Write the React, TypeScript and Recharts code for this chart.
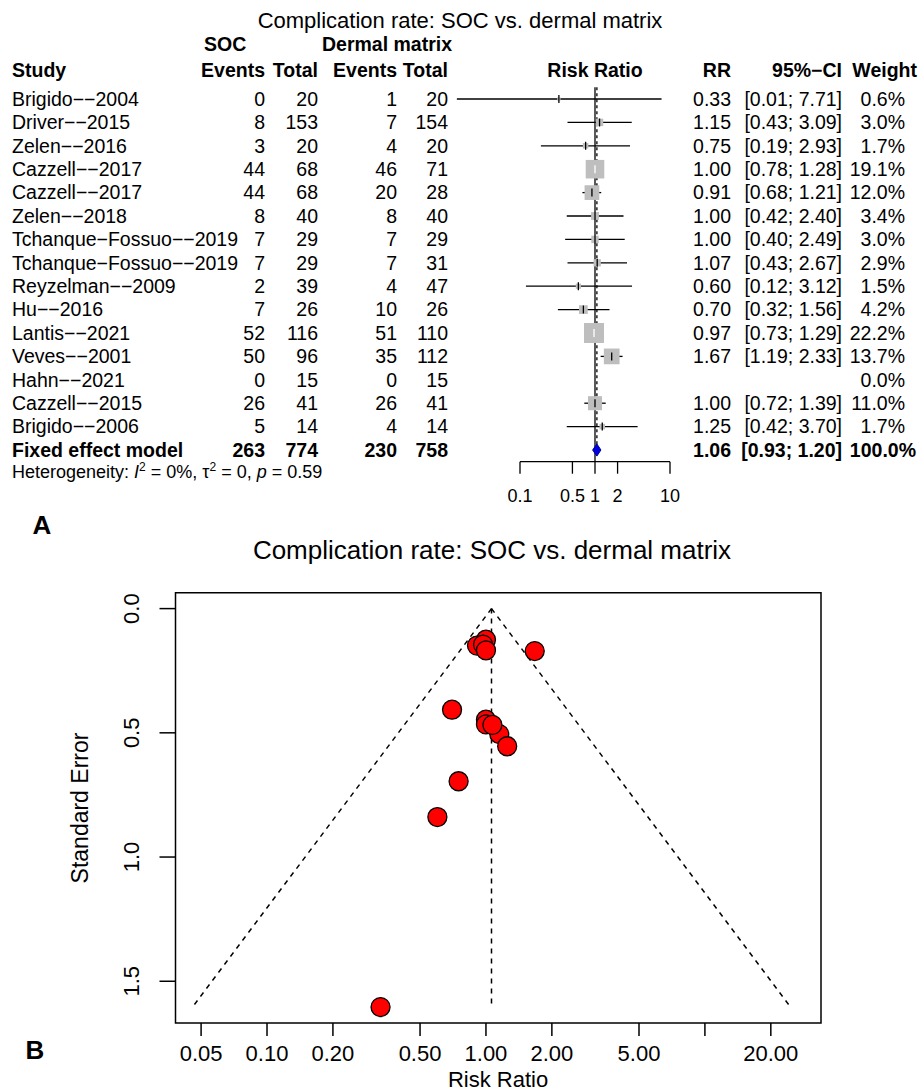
import React from 'react';
import {
  ScatterChart,
  Scatter,
  XAxis,
  YAxis,
  ErrorBar,
  ReferenceLine,
  ReferenceArea,
} from 'recharts';

const FONT = '"Liberation Sans", Arial, Helvetica, sans-serif';

// ---- study table ----
const studyNames = [
  'Brigido−−2004', 'Driver−−2015', 'Zelen−−2016', 'Cazzell−−2017', 'Cazzell−−2017',
  'Zelen−−2018', 'Tchanque−Fossuo−−2019', 'Tchanque−Fossuo−−2019', 'Reyzelman−−2009',
  'Hu−−2016', 'Lantis−−2021', 'Veves−−2001', 'Hahn−−2021', 'Cazzell−−2015', 'Brigido−−2006',
];
const socEvents = [0, 8, 3, 44, 44, 8, 7, 7, 2, 7, 52, 50, 0, 26, 5];
const socTotal = [20, 153, 20, 68, 68, 40, 29, 29, 39, 26, 116, 96, 15, 41, 14];
const dermEvents = [1, 7, 4, 46, 20, 8, 7, 7, 4, 10, 51, 35, 0, 26, 4];
const dermTotal = [20, 154, 20, 71, 28, 40, 29, 31, 47, 26, 110, 112, 15, 41, 14];
const riskRatio = [0.33, 1.15, 0.75, 1.0, 0.91, 1.0, 1.0, 1.07, 0.6, 0.7, 0.97, 1.67, null, 1.0, 1.25];
const ciLower = [0.0144, 0.43, 0.19, 0.78, 0.68, 0.42, 0.4, 0.43, 0.12, 0.32, 0.73, 1.19, null, 0.72, 0.42];
const ciUpper = [7.71, 3.09, 2.93, 1.28, 1.21, 2.4, 2.49, 2.67, 3.12, 1.56, 1.29, 2.33, null, 1.39, 3.7];
const weights = [0.6, 3.0, 1.7, 19.1, 12.0, 3.4, 3.0, 2.9, 1.5, 4.2, 22.2, 13.7, 0.0, 11.0, 1.7];
// standard error of log RR, funnel plot y
const stdErrors = [1.604, 0.505, 0.695, 0.125, 0.149, 0.447, 0.466, 0.468, 0.839, 0.407, 0.145, 0.171, null, 0.168, 0.554];

// fixed effect model
const pooledCounts = [263, 774, 230, 758];
const pooledRR = 1.06;
const pooledLower = 0.93;
const pooledUpper = 1.2;

const forestTicks = [0.1, 0.5, 1, 2, 10];
const funnelTicks = [0.05, 0.1, 0.2, 0.5, 1, 2, 5, 10, 20];
const seTicks = [0, 0.5, 1, 1.5];
// pseudo 95% limits of the funnel at max SE
const funnelSeMax = 1.604;
const funnelLower = 0.0457;
const funnelUpper = 24.6;

const rows = studyNames.map((name, i) => ({
  row: i + 1,
  name,
  ev1: socEvents[i],
  n1: socTotal[i],
  ev2: dermEvents[i],
  n2: dermTotal[i],
  rr: riskRatio[i],
  lo: ciLower[i],
  hi: ciUpper[i],
  w: weights[i],
  se: stdErrors[i],
  ci: riskRatio[i] == null ? [0, 0] : [riskRatio[i]! - ciLower[i]!, ciUpper[i]! - riskRatio[i]!],
}));
const withEstimate = rows.filter((r) => r.rr != null);
const thinCI = withEstimate.filter((r) => r.w < 15);
const boxedCI = withEstimate.filter((r) => r.w >= 15);
const pooledRow = rows.length + 1;
const rowTicks = rows.map((r) => r.row).concat(pooledRow);
const diamond = [
  { rr: pooledLower, row: pooledRow },
  { rr: pooledRR, row: pooledRow - 0.26 },
  { rr: pooledUpper, row: pooledRow },
  { rr: pooledRR, row: pooledRow + 0.26 },
];

const FS = 19.5;

function T(props: any) {
  const { children, ...rest } = props;
  return (
    <text fontFamily={FONT} fontSize={FS} fill="#000" dy="0.35em" {...rest}>
      {children}
    </text>
  );
}

function ForestRowTick({ y, payload }: any) {
  const i = payload.value;
  if (i === pooledRow) {
    return (
      <g>
        <T x={12} y={y} fontWeight="bold">Fixed effect model</T>
        <T x={265} y={y} textAnchor="end" fontWeight="bold">{pooledCounts[0]}</T>
        <T x={318} y={y} textAnchor="end" fontWeight="bold">{pooledCounts[1]}</T>
        <T x={397} y={y} textAnchor="end" fontWeight="bold">{pooledCounts[2]}</T>
        <T x={448} y={y} textAnchor="end" fontWeight="bold">{pooledCounts[3]}</T>
        <T x={731} y={y} textAnchor="end" fontWeight="bold">{pooledRR.toFixed(2)}</T>
        <T x={842} y={y} textAnchor="end" fontWeight="bold">
          [{pooledLower.toFixed(2)}; {pooledUpper.toFixed(2)}]
        </T>
        <T x={916} y={y} textAnchor="end" fontWeight="bold">100.0%</T>
        <T x={12} y={y + 21.7} fontSize={18}>
          Heterogeneity: <tspan fontStyle="italic">I</tspan>
          <tspan fontSize={12} dy={-7}>2</tspan>
          <tspan dy={7}> = 0%, τ</tspan>
          <tspan fontSize={12} dy={-7}>2</tspan>
          <tspan dy={7}> = 0, </tspan>
          <tspan fontStyle="italic">p</tspan> = 0.59
        </T>
      </g>
    );
  }
  const r = rows[i - 1];
  if (!r) return <g />;
  return (
    <g>
      <T x={12} y={y}>{r.name}</T>
      <T x={265} y={y} textAnchor="end">{r.ev1}</T>
      <T x={318} y={y} textAnchor="end">{r.n1}</T>
      <T x={397} y={y} textAnchor="end">{r.ev2}</T>
      <T x={448} y={y} textAnchor="end">{r.n2}</T>
      {r.rr != null && (
        <>
          <T x={731} y={y} textAnchor="end">{r.rr.toFixed(2)}</T>
          <T x={842} y={y} textAnchor="end">
            [{r.lo!.toFixed(2)}; {r.hi!.toFixed(2)}]
          </T>
        </>
      )}
      <T x={905} y={y} textAnchor="end">{r.w.toFixed(1)}%</T>
    </g>
  );
}

const squareShape = (p: any) => {
  const s = 20 * Math.sqrt(p.payload.w / 22.2);
  return <rect x={p.cx - s / 2} y={p.cy - s / 2} width={s} height={s} fill="#bebebe" />;
};

const estimateTick = (color: string) => (p: any) => (
  <line x1={p.cx} x2={p.cx} y1={p.cy - 4} y2={p.cy + 4} stroke={color} strokeWidth={1.3} />
);

const diamondShape = (p: any) => (
  <polygon
    points={p.points.map((q: any) => `${q.x},${q.y}`).join(' ')}
    fill="#0000e6"
    stroke="#00008b"
    strokeWidth={1}
  />
);

const dotShape = (p: any) => (
  <circle cx={p.cx} cy={p.cy} r={9.5} fill="#ff0000" stroke="#000" strokeWidth={1.3} />
);

function SeTick({ x, y, payload }: any) {
  const cx = x - 28;
  return (
    <text
      x={cx}
      y={y}
      transform={`rotate(-90 ${cx} ${y})`}
      textAnchor="middle"
      dy="0.35em"
      fontSize={22}
      fontFamily={FONT}
      fill="#000"
    >
      {payload.value.toFixed(1)}
    </text>
  );
}

export default function App() {
  return (
    <div style={{ position: 'absolute', left: 0, top: 0, width: 921, height: 1092, background: '#fff' }}>
      {/* A: forest plot */}
      <div style={{ position: 'absolute', left: 0, top: 0 }}>
        <ScatterChart width={921} height={530} margin={{ top: 87.3, right: 251, bottom: 18.3, left: 444 }}>
          <XAxis
            type="number"
            dataKey="rr"
            scale="log"
            domain={[0.01, 10]}
            allowDataOverflow
            ticks={forestTicks}
            interval={0}
            tickFormatter={(v: number) => String(v)}
            axisLine={false}
            tickSize={12}
            tickMargin={16}
            height={50}
            tickLine={{ stroke: '#000', strokeWidth: 1.3 }}
            tick={{ fontSize: 18, fill: '#000', fontFamily: FONT }}
          />
          <YAxis
            type="number"
            dataKey="row"
            domain={[0.5, 16.5]}
            reversed
            allowDataOverflow
            ticks={rowTicks}
            interval={0}
            width={1}
            axisLine={false}
            tickLine={false}
            tick={(p: any) => <ForestRowTick {...p} />}
          />
          <ReferenceLine x={1} stroke="#000" strokeWidth={1.3} />
          <ReferenceLine
            segment={[{ x: pooledRR, y: 0.5 }, { x: pooledRR, y: pooledRow - 0.26 }]}
            stroke="#000"
            strokeWidth={1.3}
            strokeDasharray="3 3"
          />
          <ReferenceLine
            segment={[{ x: 0.1, y: 16.5 }, { x: 10, y: 16.5 }]}
            stroke="#000"
            strokeWidth={1.3}
            ifOverflow="visible"
          />
          <Scatter data={withEstimate} shape={squareShape} isAnimationActive={false} />
          <Scatter data={thinCI} shape={estimateTick('#000')} isAnimationActive={false}>
            <ErrorBar dataKey="ci" direction="x" width={0} stroke="#000" strokeWidth={1.3} isAnimationActive={false} />
          </Scatter>
          <Scatter data={boxedCI} shape={estimateTick('#fff')} isAnimationActive={false}>
            <ErrorBar dataKey="ci" direction="x" width={0} stroke="#fff" strokeWidth={1.3} isAnimationActive={false} />
          </Scatter>
          <Scatter data={diamond} shape={() => <g />} line={diamondShape} isAnimationActive={false} />
        </ScatterChart>
      </div>

      {/* B: funnel plot */}
      <div style={{ position: 'absolute', left: 0, top: 540 }}>
        <ScatterChart width={921} height={552} margin={{ top: 52.7, right: 100, bottom: 0, left: 0 }}>
          <XAxis
            type="number"
            dataKey="rr"
            scale="log"
            domain={[0.0382, 33.9]}
            allowDataOverflow
            ticks={funnelTicks}
            interval={0}
            tickFormatter={(v: number) => (v === 10 ? '' : v.toFixed(2))}
            axisLine={false}
            tickSize={13}
            tickMargin={9}
            height={69}
            tickLine={{ stroke: '#000', strokeWidth: 1.5 }}
            tick={{ fontSize: 22, fill: '#000', fontFamily: FONT }}
          />
          <YAxis
            type="number"
            dataKey="se"
            domain={[-0.064, 1.668]}
            reversed
            allowDataOverflow
            ticks={seTicks}
            interval={0}
            width={175.5}
            axisLine={false}
            tickSize={16}
            tickMargin={0}
            tickLine={{ stroke: '#000', strokeWidth: 1.5 }}
            tick={(p: any) => <SeTick {...p} />}
          />
          <ReferenceArea x1={0.0382} x2={33.9} y1={-0.064} y2={1.668} fill="none" fillOpacity={0} stroke="#000" strokeWidth={1.5} />
          <ReferenceLine segment={[{ x: pooledRR, y: 0 }, { x: pooledRR, y: funnelSeMax }]} stroke="#000" strokeWidth={1.5} strokeDasharray="5 5" />
          <ReferenceLine segment={[{ x: pooledRR, y: 0 }, { x: funnelLower, y: funnelSeMax }]} stroke="#000" strokeWidth={1.5} strokeDasharray="5 5" />
          <ReferenceLine segment={[{ x: pooledRR, y: 0 }, { x: funnelUpper, y: funnelSeMax }]} stroke="#000" strokeWidth={1.5} strokeDasharray="5 5" />
          <Scatter data={withEstimate} shape={dotShape} isAnimationActive={false} />
        </ScatterChart>
      </div>

      {/* titles and headers */}
      <svg width={921} height={1092} style={{ position: 'absolute', left: 0, top: 0, pointerEvents: 'none' }}>
        <T x={460} y={20} fontSize={22} textAnchor="middle">Complication rate: SOC vs. dermal matrix</T>
        <T x={204} y={44} fontWeight="bold">SOC</T>
        <T x={322} y={44} fontWeight="bold">Dermal matrix</T>
        <T x={12} y={70} fontWeight="bold">Study</T>
        <T x={265} y={70} fontWeight="bold" textAnchor="end">Events</T>
        <T x={318} y={70} fontWeight="bold" textAnchor="end">Total</T>
        <T x={397} y={70} fontWeight="bold" textAnchor="end">Events</T>
        <T x={448} y={70} fontWeight="bold" textAnchor="end">Total</T>
        <T x={595} y={70} fontWeight="bold" textAnchor="middle">Risk Ratio</T>
        <T x={731} y={70} fontWeight="bold" textAnchor="end">RR</T>
        <T x={842} y={70} fontWeight="bold" textAnchor="end">95%−CI</T>
        <T x={917} y={70} fontWeight="bold" textAnchor="end">Weight</T>
        <T x={42} y={525} fontSize={26} fontWeight="bold" textAnchor="middle">A</T>
        <T x={492} y={550} fontSize={26} textAnchor="middle">Complication rate: SOC vs. dermal matrix</T>
        <T x={80} y={808} fontSize={23} textAnchor="middle" transform="rotate(-90 80 808)">Standard Error</T>
        <T x={498} y={1079} fontSize={22} textAnchor="middle">Risk Ratio</T>
        <T x={35} y={1050} fontSize={26} fontWeight="bold" textAnchor="middle">B</T>
      </svg>
    </div>
  );
}
